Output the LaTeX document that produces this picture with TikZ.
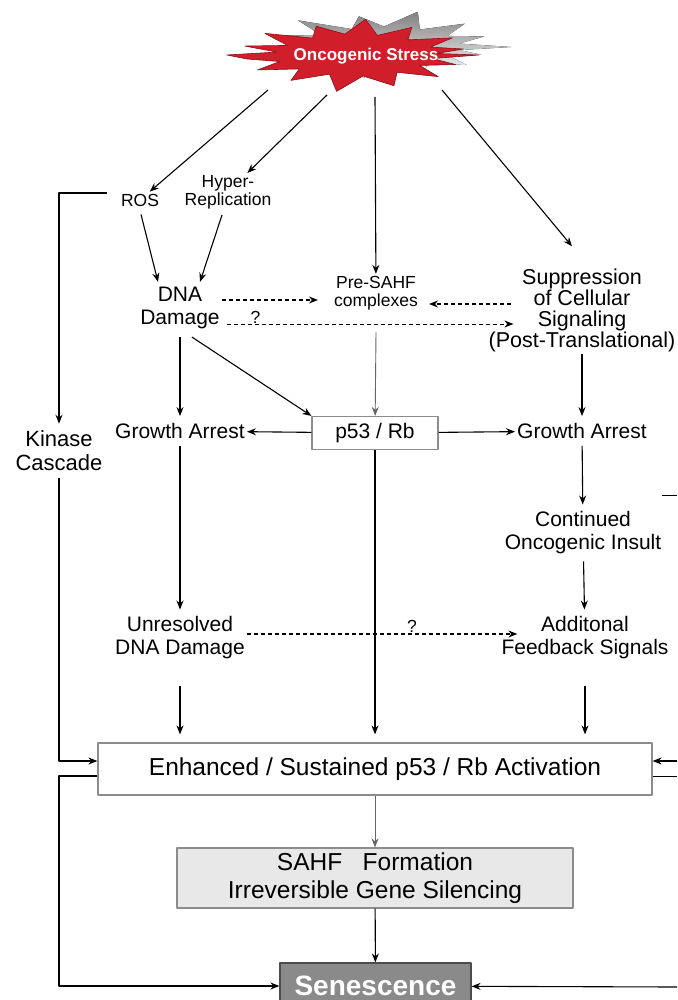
\documentclass[tikz,border=0pt]{standalone}
\usepackage{fontspec}
\setmainfont{Liberation Sans}
\usetikzlibrary{arrows.meta}
\definecolor{burst}{HTML}{D01E2A}
\definecolor{burstedge}{HTML}{8E0F17}
\definecolor{shade}{HTML}{A3A3A3}
\definecolor{boxline}{HTML}{8C8C8C}
\definecolor{sahffill}{HTML}{E8E8E8}
\definecolor{senfill}{HTML}{8A8A8A}
\tikzset{
  txt/.style={align=center, inner xsep=2pt, inner ysep=7pt, font=\fontsize{21}{23}\selectfont},
  smalltxt/.style={align=center, inner sep=2pt, font=\fontsize{17.5}{18}\selectfont},
  pbox/.style={draw=boxline, line width=1.2pt, align=center},
  arr/.style={-{Stealth[length=9pt,width=7pt]}, line width=1.1pt},
  darr/.style={arr, dash pattern=on 4pt off 3pt},
  garr/.style={arr, draw=gray!80!black, line width=0.9pt}
}
\begin{document}
\begin{tikzpicture}[x=1pt, y=-1pt, line join=round]
\useasboundingbox (0,0) rectangle (677,1000);
\begin{scope}[shift={(384,47)}, xscale=3.85]
  \fill[shade] (0:33) \foreach \a/\r in {9/0.6, 17/0.8, 28/0.58, 40/0.85, 55/0.6, 70/0.9, 84/0.6, 100/0.95, 115/0.6, 130/0.85, 145/0.6, 160/0.9, 172/0.62, 180/0.85, 190/0.6, 202/0.95, 215/0.6, 230/1.05, 245/0.6, 258/0.95, 270/0.62, 284/1.1, 298/0.6, 312/0.95, 326/0.6, 338/0.85, 350/0.6}{ -- (\a:{33*\r}) } -- cycle;
\end{scope}
\begin{scope}[shift={(356,55)}, xscale=3.8]
  \filldraw[fill=burst, draw=burstedge, line width=0.6pt] (0:{34*0.95}) \foreach \a/\r in {10/0.6, 20/0.82, 32/0.58, 45/0.9, 58/0.6, 72/0.95, 85/0.62, 98/1.08, 110/0.6, 124/0.9, 137/0.6, 150/0.88, 162/0.62, 172/0.85, 180/1.0, 188/0.62, 197/0.9, 208/0.6, 222/0.95, 236/0.6, 250/0.9, 262/0.62, 274/1.05, 286/0.6, 298/0.92, 312/0.6, 326/0.9, 338/0.62, 348/0.85, 356/0.62}{ -- (\a:{34*\r}) } -- cycle;
\end{scope}
\node[text=white, font=\bfseries\fontsize{17}{17}\selectfont] (stress) at (366,56) {Oncogenic Stress};
\path
(268,90)coordinate(s1)
(327,95)coordinate(s2)
(375,97)coordinate(s3)
(442,90)coordinate(s4)
(677,761)coordinate(ri)
(677,776)coordinate(ro)
(677,987)coordinate(rb)
(662,495)coordinate(rt1)
(677,495)coordinate(rt2)
;
\node[smalltxt] (ros) at (140,200) {ROS};
\node[smalltxt] (hyp) at (228,192) {Hyper-\\Replication};
\node[txt, inner ysep=2pt] (dna) at (180,308) {DNA\\Damage};
\node[smalltxt] (pre) at (376,293) {Pre-SAHF\\complexes};
\node[txt, inner ysep=2pt, font=\fontsize{21.5}{21}\selectfont] (sup) at (582,310) {Suppression\\of Cellular\\Signaling\\(Post-Translational)};
\node[txt] (gal) at (180,431) {Growth Arrest};
\node[pbox, minimum width=126pt, minimum height=33pt, font=\fontsize{21}{23}\selectfont] (p53) at (375,433) {p53 / Rb};
\node[txt] (gar) at (582,431) {Growth Arrest};
\node[txt, font=\fontsize{22}{24}\selectfont] (kin) at (59,451) {Kinase\\Cascade};
\node[txt] (con) at (583,533) {Continued\\Oncogenic Insult};
\node[txt] (unr) at (180,638) {Unresolved\\DNA Damage};
\node[txt] (add) at (585,638) {Additonal\\Feedback Signals};
\node[pbox, minimum width=554pt, minimum height=52pt, font=\fontsize{24.5}{26}\selectfont] (enh) at (375,769) {Enhanced / Sustained p53 / Rb Activation};
\node[pbox, fill=sahffill, minimum width=396pt, minimum height=60pt, font=\fontsize{24.5}{28}\selectfont] (sahf) at (375,878) {SAHF\ \ \ Formation\\Irreversible Gene Silencing};
\node[pbox, fill=senfill, draw=gray!60!black, minimum width=191pt, minimum height=46pt, text=white, font=\bfseries\fontsize{28}{28}\selectfont] (sen) at (375.5,986) {Senescence};
\path ([yshift=8pt]enh.west) coordinate (ei) ([yshift=-7pt]enh.west) coordinate (eo);
\draw[arr] (s1) -- (ros);
\draw[arr] (s2) -- (hyp);
\draw[arr] (s3) -- (pre);
\draw[arr] (s4) -- ([xshift=-10pt,yshift=20pt]sup.north);
\draw[arr] ([xshift=1pt,yshift=-6pt]ros.south) -- ([xshift=-22pt,yshift=3pt]dna.north);
\draw[arr] ([xshift=-6pt,yshift=-4pt]hyp.south) -- ([xshift=20pt,yshift=3pt]dna.north);
\draw[arr] ([xshift=-12pt,yshift=7pt]ros.west) -| (kin);
\draw[darr] ([yshift=8pt]dna.east) -- ([xshift=-14pt,yshift=-7pt]pre.west);
\draw[darr] ([xshift=25pt,yshift=6pt]sup.west) -- ([xshift=9pt,yshift=-11pt]pre.east);
\draw[darr, line width=0.8pt] ([xshift=5pt,yshift=-16pt]dna.east) -- node[smalltxt, pos=0.1, above=-2pt] {?} ([xshift=27pt,yshift=-14pt]sup.west);
\draw[garr] ([yshift=-20pt]pre.south) -- (p53);
\draw[arr] ([yshift=-6pt]dna.south) -- (gal);
\draw[arr] ([xshift=12pt,yshift=-6pt]dna.south) -- (p53.north west);
\draw[arr] (p53) -- (gal);
\draw[arr] (p53) -- (gar);
\draw[arr] (sup) -- (gar);
\draw[arr] (gar) -- (con);
\draw[arr] (con) -- (add);
\draw[arr] (gal) -- (unr);
\draw[darr] ([yshift=4pt]unr.east) -- node[smalltxt, pos=0.61, above=-1pt] {?} ([xshift=18pt,yshift=4pt]add.west);
\draw[arr, shorten <=20pt, shorten >=8pt] (unr) -- (unr |- enh.north);
\draw[arr, shorten >=8pt] (p53) -- (enh);
\draw[arr, shorten <=20pt, shorten >=8pt] (add) -- (add |- enh.north);
\draw[arr] (kin) |- (ei);
\draw[arr] (eo) -- (eo -| kin) |- (sen);
\draw[arr] (ri) -- (ri -| enh.east);
\draw (ro -| enh.east) -- (ro);
\draw[arr] (rb) -- (sen);
\draw (rt1) -- (rt2);
\draw[garr] (enh) -- (sahf);
\draw[arr] (sahf) -- (sen);
\end{tikzpicture}
\end{document}
